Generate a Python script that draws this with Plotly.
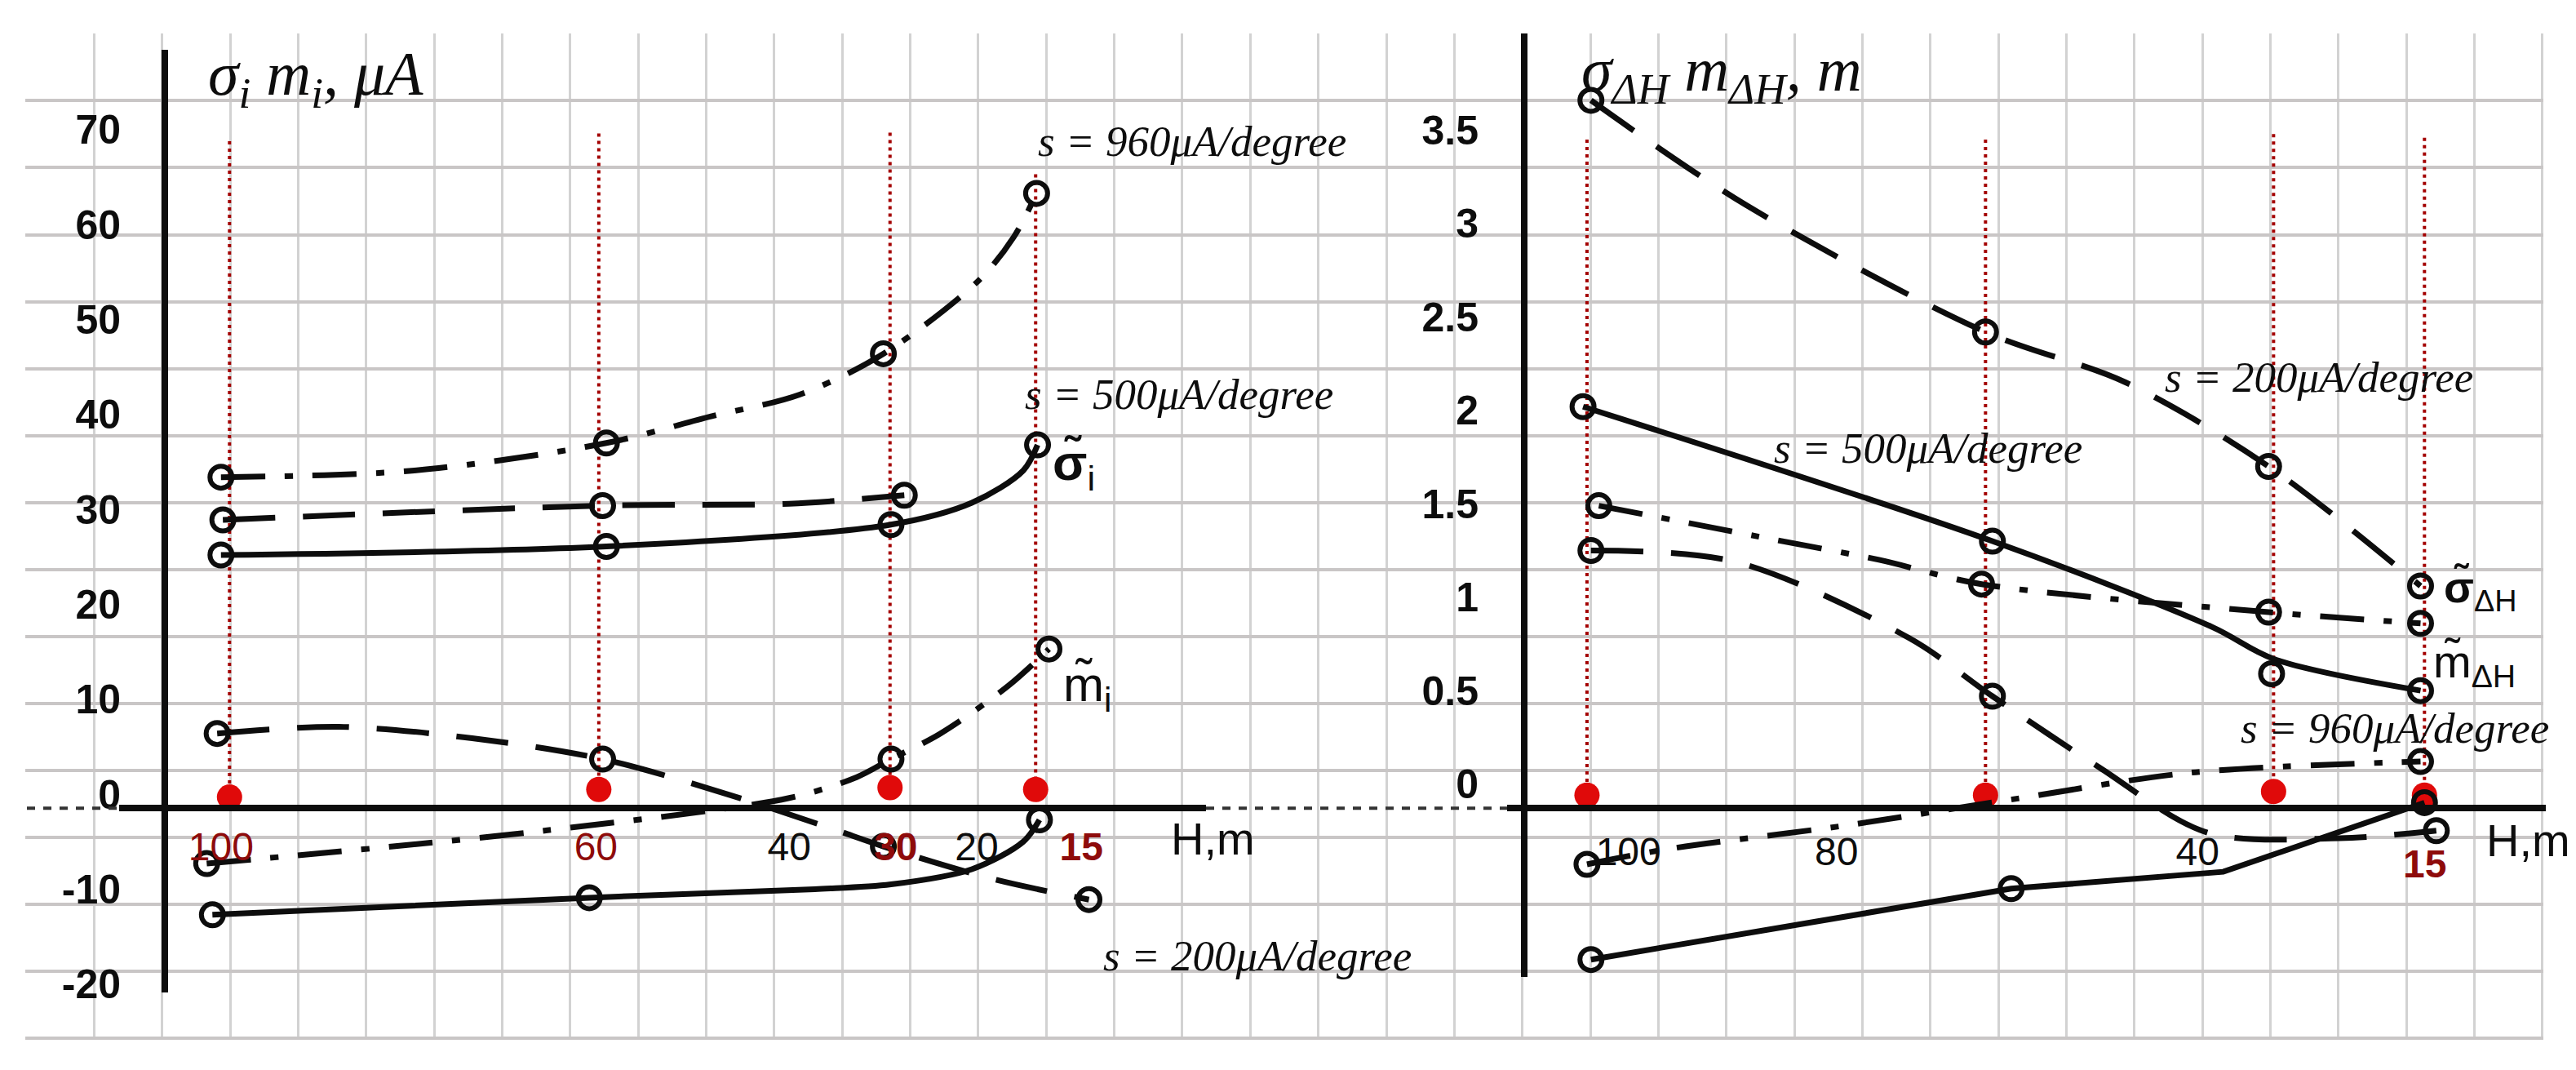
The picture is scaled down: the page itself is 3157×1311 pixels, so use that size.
import plotly.graph_objects as go

FIG_W, FIG_H = 3157, 1311

# ---------------- values ----------------
# left panel: sigma_i, m_i in uA against depth H in m
L_Y_TICKS = [70, 60, 50, 40, 30, 20, 10, 0, -10, -20]
L_H_TICK_POS = [100.6, 61.2, 40.9, 29.7, 21.2, 10.2]
L_H_TICK_TEXT = ["100", "60", "40", "30", "20", "15"]
L_H_TICK_RED = [True, True, False, True, False, True]

L_STATION_H = [99.7, 60.9, 30.3, 15.0]
L_STATION_V = [-0.3, 0.5, 0.7, 0.5]
L_GUIDE_TOP = [68.8, 69.6, 69.7, 65.3]

# sigma_i, s = 960 uA/degree (dash-dot)
L_SIG960_H = [100.6, 80.3, 60.1, 49.1, 39.8, 31.0, 20.9, 17.3, 14.9]
L_SIG960_V = [33.4, 34.1, 37.0, 39.8, 42.1, 46.4, 54.2, 58.7, 63.3]
L_SIG960_CH = [100.6, 60.1, 31.0, 14.9]
L_SIG960_CV = [33.4, 37.0, 46.4, 63.3]
# sigma_i, s = 200 (dashed)
L_SIG200_H = [100.4, 60.5, 40.9, 28.8]
L_SIG200_V = [28.9, 30.4, 30.6, 31.5]
L_SIG200_CH = [100.4, 60.5, 28.8]
L_SIG200_CV = [28.9, 30.4, 31.5]
# sigma_i, s = 500 (solid)
L_SIG500_H = [100.6, 60.1, 30.2, 21.7, 16.3, 14.8]
L_SIG500_V = [25.2, 26.1, 28.4, 30.7, 34.1, 36.8]
L_SIG500_CH = [100.6, 60.1, 30.2, 14.8]
L_SIG500_CV = [25.2, 26.1, 28.4, 36.8]
# m_i, s = 200 (dashed)
L_M200_H = [101.0, 88.2, 74.2, 60.5, 47.4, 36.5, 31.0, 19.6, 9.4]
L_M200_V = [6.4, 7.1, 5.9, 3.7, 0.0, -3.6, -5.5, -8.9, -11.1]
L_M200_CH = [101.0, 60.5, 31.0, 9.4]
L_M200_CV = [6.4, 3.7, -5.5, -11.1]
# m_i, s = 960 (dash-dot)
L_M960_H = [102.1, 82.5, 66.3, 40.9, 33.8, 30.2, 25.0, 17.9, 13.6]
L_M960_V = [-7.3, -5.5, -3.8, -0.4, 1.8, 3.7, 6.4, 11.4, 15.3]
L_M960_CH = [102.1, 30.2, 13.6]
L_M960_CV = [-7.3, 3.7, 15.3]
# m_i, s = 500 (solid)
L_M500_H = [101.5, 61.9, 38.2, 30.2, 21.7, 16.3, 14.6]
L_M500_V = [-12.7, -10.9, -10.0, -9.5, -7.9, -5.0, -2.7]
L_M500_CH = [101.5, 61.9, 14.6]
L_M500_CV = [-12.7, -10.9, -2.7]

# right panel: sigma_dH, m_dH in m against depth H in m
R_Y_TICKS = [3.5, 3, 2.5, 2, 1.5, 1, 0.5, 0]
R_Y_TEXT = ["3.5", "3", "2.5", "2", "1.5", "1", "0.5", "0"]
R_H_TICK_POS = [95.8, 74.7, 38.1]
R_H_TICK_TEXT = ["100", "80", "40"]

R_STATION_H = [100.0, 59.6, 30.4, 15.1]
R_STATION_V = [-0.06, -0.06, -0.04, -0.06]
R_GUIDE_TOP = [3.45, 3.45, 3.48, 3.46]

R_SIG200_H = [99.6, 83.9, 59.6, 45.4, 30.9, 15.5]
R_SIG200_V = [3.66, 3.10, 2.42, 2.15, 1.70, 1.06]
R_SIG200_CH = [99.6, 59.6, 30.9, 15.5]
R_SIG200_CV = [3.66, 2.42, 1.70, 1.06]

R_SIG500_H = [100.4, 58.9, 36.6, 30.4, 15.5]
R_SIG500_V = [2.02, 1.30, 0.84, 0.67, 0.50]
R_SIG500_CH = [100.4, 58.9, 30.6, 15.5]
R_SIG500_CV = [2.02, 1.30, 0.59, 0.50]

R_SIG960_H = [98.8, 81.2, 70.4, 60.0, 30.9, 15.5]
R_SIG960_V = [1.49, 1.31, 1.20, 1.07, 0.92, 0.86]
R_SIG960_CH = [98.8, 60.0, 30.9, 15.5]
R_SIG960_CV = [1.49, 1.07, 0.92, 0.86]

R_M200_H = [99.6, 85.0, 67.3, 58.9, 48.1, 37.1, 23.7, 13.9]
R_M200_V = [1.25, 1.19, 0.78, 0.47, 0.09, -0.26, -0.29, -0.25]
R_M200_CH = [99.6, 58.9, 13.9]
R_M200_CV = [1.25, 0.47, -0.25]

R_M960_H = [100.0, 92.0, 73.5, 56.6, 38.9, 15.5]
R_M960_V = [-0.43, -0.35, -0.22, -0.08, 0.06, 0.12]
R_M960_CH = [100.0, 15.5]
R_M960_CV = [-0.43, 0.12]

R_M500_H = [99.6, 57.0, 35.5, 15.1]
R_M500_V = [-0.94, -0.56, -0.47, -0.10]
R_M500_CH = [99.6, 57.0, 15.1]
R_M500_CV = [-0.94, -0.56, -0.10]

# ---------------- styling ----------------
INK = "#0d0d0d"
RED = "#e00a0a"
LABEL_RED = "#8e0b0b"
GUIDE_RED = "#a30000"
SANS = "Liberation Sans, Arial, sans-serif"
SERIF = "Liberation Serif, DejaVu Serif, serif"
DASH = "64px,34px"
DASHDOT = "54px,24px,10px,24px"
LEFT = ("x2", "y2")
RIGHT = ("x3", "y3")
PAPER = ("x", "y")

fig = go.Figure()

# invisible trace so the graph-paper axes exist
fig.add_trace(go.Scatter(x=[100], y=[100], mode="markers", marker=dict(opacity=0),
                         xaxis="x", yaxis="y", hoverinfo="skip"))


def add_curve(h, v, dash, ax, shape="spline"):
    fig.add_trace(go.Scatter(
        x=h, y=v, mode="lines", xaxis=ax[0], yaxis=ax[1], hoverinfo="skip",
        line=dict(color=INK, width=7, dash=dash, shape=shape, smoothing=0.9),
    ))


def add_circles(h, v, ax):
    fig.add_trace(go.Scatter(
        x=h, y=v, mode="markers", xaxis=ax[0], yaxis=ax[1], hoverinfo="skip",
        marker=dict(symbol="circle-open", size=27, color=INK, line=dict(width=6)),
    ))


def add_stations(h, v, top, ax):
    # red dotted guides down to the filled red station dots
    gx, gy = [], []
    for hh, vv, tt in zip(h, v, top):
        gx += [hh, hh, None]
        gy += [tt, vv, None]
    fig.add_trace(go.Scatter(x=gx, y=gy, mode="lines", xaxis=ax[0], yaxis=ax[1],
                             hoverinfo="skip",
                             line=dict(color=GUIDE_RED, width=4, dash="4px,5px")))
    fig.add_trace(go.Scatter(x=h, y=v, mode="markers", xaxis=ax[0], yaxis=ax[1],
                             hoverinfo="skip",
                             marker=dict(symbol="circle", size=31, color=RED)))


add_stations(L_STATION_H, L_STATION_V, L_GUIDE_TOP, LEFT)
add_stations(R_STATION_H, R_STATION_V, R_GUIDE_TOP, RIGHT)

add_curve(L_SIG960_H, L_SIG960_V, DASHDOT, LEFT)
add_curve(L_SIG200_H, L_SIG200_V, DASH, LEFT)
add_curve(L_SIG500_H, L_SIG500_V, "solid", LEFT)
add_curve(L_M200_H, L_M200_V, DASH, LEFT)
add_curve(L_M960_H, L_M960_V, DASHDOT, LEFT)
add_curve(L_M500_H, L_M500_V, "solid", LEFT)
for ch, cv in [(L_SIG960_CH, L_SIG960_CV), (L_SIG200_CH, L_SIG200_CV),
               (L_SIG500_CH, L_SIG500_CV), (L_M200_CH, L_M200_CV),
               (L_M960_CH, L_M960_CV), (L_M500_CH, L_M500_CV)]:
    add_circles(ch, cv, LEFT)

add_curve(R_SIG200_H, R_SIG200_V, DASH, RIGHT)
add_curve(R_SIG500_H, R_SIG500_V, "solid", RIGHT)
add_curve(R_SIG960_H, R_SIG960_V, DASHDOT, RIGHT)
add_curve(R_M200_H, R_M200_V, DASH, RIGHT)
add_curve(R_M960_H, R_M960_V, DASHDOT, RIGHT)
add_curve(R_M500_H, R_M500_V, "solid", RIGHT, shape="linear")
for ch, cv in [(R_SIG200_CH, R_SIG200_CV), (R_SIG500_CH, R_SIG500_CV),
               (R_SIG960_CH, R_SIG960_CV), (R_M200_CH, R_M200_CV),
               (R_M960_CH, R_M960_CV), (R_M500_CH, R_M500_CV)]:
    add_circles(ch, cv, RIGHT)


def h_label(text, red):
    if not red:
        return text
    if text in ("30", "15"):
        text = "<b>%s</b>" % text
    return '<span style="color:%s">%s</span>' % (LABEL_RED, text)


def y_label(v):
    # the figure uses a plain hyphen for negatives
    return "<b>%s</b>" % ("%g" % v).replace("\u2212", "-")


BASE_Y = 1 - 996 / FIG_H
Y_TICK_FONT = dict(family=SANS, size=50, color=INK)
H_TICK_FONT = dict(family=SANS, size=48, color=INK)

layout_axes = dict(
    # graph paper (pixel units)
    xaxis=dict(domain=[23 / FIG_W, 3109 / FIG_W], range=[23, 3109], tick0=24, dtick=83.35,
               showgrid=True, gridcolor="#d2d2d2", gridwidth=3, zeroline=False,
               showticklabels=False, ticks="", showline=False),
    yaxis=dict(domain=[1 - 1283 / FIG_H, 1 - 33 / FIG_H], range=[1283, 33], tick0=117,
               dtick=83.2, showgrid=True, gridcolor="#c9c6c6", gridwidth=4,
               zeroline=False, showticklabels=False, ticks="", showline=False),
    # left panel
    xaxis2=dict(domain=[138 / FIG_W, 1470 / FIG_W], range=[111.3, -2.9], anchor="free",
                position=BASE_Y, showline=True, linewidth=8, linecolor=INK,
                showgrid=False, zeroline=False, tickmode="array", tickvals=L_H_TICK_POS,
                ticktext=[h_label(t, r) for t, r in zip(L_H_TICK_TEXT, L_H_TICK_RED)],
                ticks="outside", ticklen=0, ticklabelstandoff=2, tickfont=H_TICK_FONT),
    yaxis2=dict(domain=[1 - 1225 / FIG_H, 1 - 54 / FIG_H], range=[-20.9, 78.4],
                anchor="free", position=194 / FIG_W, showline=True, linewidth=8,
                linecolor=INK, showgrid=False, zeroline=False, tickmode="array",
                tickvals=L_Y_TICKS, ticktext=[y_label(v) for v in L_Y_TICKS],
                ticks="outside", ticklen=0, ticklabelstandoff=40, tickfont=Y_TICK_FONT),
    # right panel
    xaxis3=dict(domain=[1839 / FIG_W, 3112 / FIG_W], range=[108.1, 2.8], anchor="free",
                position=BASE_Y, showline=True, linewidth=8, linecolor=INK,
                showgrid=False, zeroline=False, tickmode="array", tickvals=R_H_TICK_POS,
                ticktext=R_H_TICK_TEXT, ticks="outside", ticklen=0, ticklabelstandoff=8,
                tickfont=H_TICK_FONT),
    yaxis3=dict(domain=[1 - 1206 / FIG_H, 1 - 33 / FIG_H], range=[-1.035, 4.02],
                anchor="free", position=1860 / FIG_W, showline=True, linewidth=8,
                linecolor=INK, showgrid=False, zeroline=False, tickmode="array",
                tickvals=R_Y_TICKS, ticktext=["<b>%s</b>" % t for t in R_Y_TEXT],
                ticks="outside", ticklen=0, ticklabelstandoff=42, tickfont=Y_TICK_FONT),
)


def note(text, x, y, ax, size, family=SERIF, color=INK, xanchor="left"):
    return dict(text=text, x=x, y=y, xref=ax[0], yref=ax[1], showarrow=False,
                xanchor=xanchor, yanchor="middle",
                font=dict(family=family, size=size, color=color))


annotations = [
    note("<i>σ<sub>i</sub> m<sub>i</sub>, μA</i>", 102.1, 75.4, LEFT, 76),
    note("<i>s = 960μA/degree</i>", 14.9, 68.8, LEFT, 53),
    note("<i>s = 500μA/degree</i>", 16.3, 42.1, LEFT, 53),
    note("<i>s = 200μA/degree</i>", 8.1, -17.0, LEFT, 53),
    note("<b>σ̃</b><sub>i</sub>", 11.0, 34.6, LEFT, 62, family=SANS, xanchor="center"),
    note("m̃<sub>i</sub>", 9.6, 11.2, LEFT, 60, family=SANS, xanchor="center"),
    note("H,m", 1478, 1034, PAPER, 56, family=SANS, xanchor="center"),
    note("<i>σ<sub>ΔH</sub> m<sub>ΔH</sub>, m</i>", 100.7, 3.80, RIGHT, 76),
    note("<i>s = 200μA/degree</i>", 41.6, 2.18, RIGHT, 53),
    note("<i>s = 500μA/degree</i>", 81.2, 1.80, RIGHT, 53),
    note("<i>s = 960μA/degree</i>", 33.9, 0.30, RIGHT, 53),
    note("<b>σ̃</b><sub>ΔH</sub>", 9.4, 1.04, RIGHT, 54, family=SANS, xanchor="center"),
    note("m̃<sub>ΔH</sub>", 10.0, 0.64, RIGHT, 56, family=SANS, xanchor="center"),
    note("<b>15</b>", 15.1, -0.43, RIGHT, 48, family=SANS, color=LABEL_RED,
         xanchor="center"),
    note("H,m", 4.6, -0.30, RIGHT, 56, family=SANS, xanchor="center"),
]

# dotted continuation of the H baseline outside the two panels (paper pixels)
dotted = dict(type="line", xref="x", yref="y", line=dict(color="#333333", width=4,
                                                          dash="10px,10px"))
shapes = [
    dict(dotted, x0=25, x1=138, y0=996, y1=996),
    dict(dotted, x0=1470, x1=1839, y0=996, y1=996),
]

fig.update_layout(
    width=FIG_W, height=FIG_H,
    margin=dict(l=0, r=0, t=0, b=0),
    paper_bgcolor="#ffffff",
    plot_bgcolor="rgba(0,0,0,0)",
    showlegend=False,
    annotations=annotations,
    shapes=shapes,
    **layout_axes,
)

fig.write_html("out.html")
